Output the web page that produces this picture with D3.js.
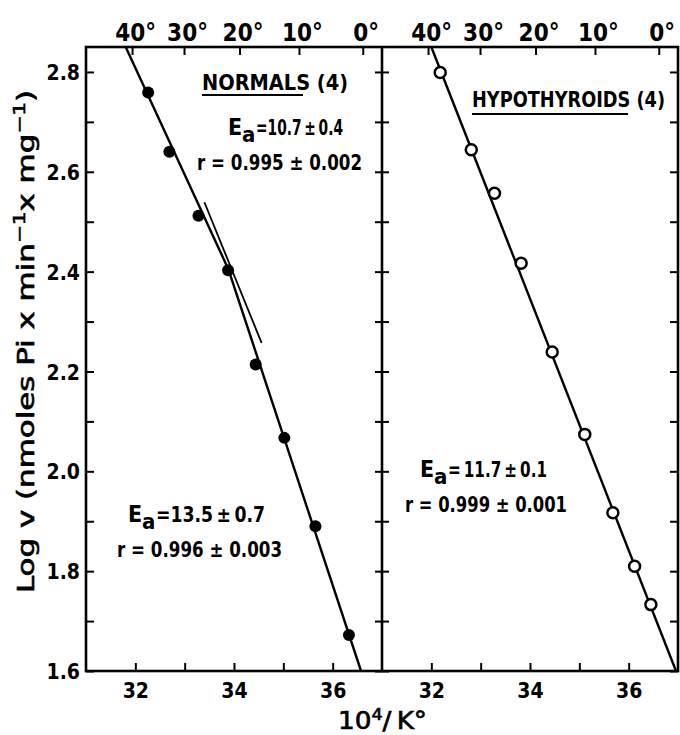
<!DOCTYPE html>
<html>
<head>
<meta charset="utf-8">
<script src="https://cdn.jsdelivr.net/npm/d3@7"></script>
<style>
  html, body { margin: 0; padding: 0; background: #fff; }
  svg { display: block; }
  text { font-family: "DejaVu Sans Condensed", "Liberation Sans", Arial, sans-serif; font-weight: bold; fill: #000; }
  text.medium { font-weight: normal; stroke: #000; stroke-width: 0.6px; }
</style>
</head>
<body>
<svg id="chart" width="680" height="735"></svg>
<script>
// ---------------- data ----------------
const normalsX = [32.26, 32.69, 33.28, 33.88, 34.44, 35.02, 35.65, 36.33];
const normalsY = [2.759, 2.640, 2.512, 2.403, 2.214, 2.067, 1.890, 1.672];
const hypoX = [32.18, 32.81, 33.28, 33.82, 34.45, 35.11, 35.68, 36.12, 36.45];
const hypoY = [2.799, 2.644, 2.557, 2.417, 2.239, 2.074, 1.917, 1.810, 1.733];
// broken regression line for normals (upper segment, break, lower segment)
const normalsFitX = [31.805, 33.885, 36.575];
const normalsFitY = [2.85, 2.405, 1.60];
const normalsTangentX = [33.40, 34.56];
const normalsTangentY = [2.539, 2.257];
const hypoFitX = [32.00, 36.96];
const hypoFitY = [2.85, 1.60];
const xTicks = [32, 33, 34, 35, 36];
const yTicks = [1.6, 1.7, 1.8, 1.9, 2.0, 2.1, 2.2, 2.3, 2.4, 2.5, 2.6, 2.7, 2.8];
const celsiusTicks = [40, 30, 20, 10, 0];

// ---------------- layout ----------------
const svg = d3.select("#chart");
const yTop = 47, yBot = 671;
const x0 = 86, xm = 382, x1 = 678;
const xL = d3.scaleLinear().domain([31, 37]).range([x0, xm]);
const xR = d3.scaleLinear().domain([31, 37]).range([xm, x1]);
const y = d3.scaleLinear().domain([1.6, 2.85]).range([yBot, yTop]);
const kelvinInv = c => 1e4 / (c + 273.15);

const tickFont = 21;

function styleAxis(g, sw) {
  g.select(".domain").remove();
  g.selectAll(".tick line").attr("stroke", "#000").attr("stroke-width", sw || 2);
  g.selectAll(".tick text").attr("font-size", tickFont).attr("fill", "#000");
}

// Left y axis with labels
svg.append("g").attr("transform", `translate(${x0},0)`)
  .call(d3.axisLeft(y).tickValues(yTicks).tickSizeInner(-8).tickSizeOuter(0).tickPadding(6)
    .tickFormat(d => (Math.round(d * 10) % 2 === 0) ? d3.format(".1f")(d) : ""))
  .call(g => styleAxis(g))
  .call(g => g.selectAll(".tick text").attr("dy", "0.36em"));

// Divider ticks (both sides)
svg.append("g").attr("transform", `translate(${xm},0)`)
  .call(d3.axisLeft(y).tickValues(yTicks).tickSizeInner(7).tickSizeOuter(0).tickFormat(""))
  .call(g => styleAxis(g));
svg.append("g").attr("transform", `translate(${xm},0)`)
  .call(d3.axisRight(y).tickValues(yTicks).tickSizeInner(7).tickSizeOuter(0).tickFormat(""))
  .call(g => styleAxis(g));
// Right edge ticks (inward)
svg.append("g").attr("transform", `translate(${x1},0)`)
  .call(d3.axisLeft(y).tickValues(yTicks).tickSizeInner(8).tickSizeOuter(0).tickFormat(""))
  .call(g => styleAxis(g));

// Bottom axes
[xL, xR].forEach(sc => {
  svg.append("g").attr("transform", `translate(0,${yBot})`)
    .call(d3.axisBottom(sc).tickValues(xTicks).tickSizeInner(-8).tickSizeOuter(0).tickPadding(12)
      .tickFormat(d => d % 2 === 0 ? d : ""))
    .call(g => styleAxis(g))
    .call(g => g.selectAll(".tick text").attr("dy", "0.71em"));
});

// Top axes (Celsius)
[xL, xR].forEach(sc => {
  svg.append("g").attr("transform", `translate(0,${yTop})`)
    .call(d3.axisTop(sc).tickValues(celsiusTicks.map(kelvinInv)).tickSizeInner(-8).tickSizeOuter(0).tickPadding(6)
      .tickFormat((d, i) => celsiusTicks[i] + "°"))
    .call(g => styleAxis(g))
    .call(g => g.selectAll(".tick text").attr("font-size", 24).attr("dx", 3));
});

// Frame
svg.append("rect").attr("x", x0).attr("y", yTop).attr("width", x1 - x0).attr("height", yBot - yTop)
  .attr("fill", "none").attr("stroke", "#000").attr("stroke-width", 2.6);
svg.append("line").attr("x1", xm).attr("x2", xm).attr("y1", yTop).attr("y2", yBot)
  .attr("stroke", "#000").attr("stroke-width", 2.6);

// Fit lines
const lineL = d3.line().x(d => xL(d[0])).y(d => y(d[1]));
const lineR = d3.line().x(d => xR(d[0])).y(d => y(d[1]));
svg.append("path").attr("d", lineL(d3.zip(normalsFitX, normalsFitY)))
  .attr("stroke", "#000").attr("stroke-width", 2.4).attr("fill", "none").attr("stroke-linejoin", "round");
svg.append("path").attr("d", lineL(d3.zip(normalsTangentX, normalsTangentY)))
  .attr("stroke", "#000").attr("stroke-width", 1.8).attr("fill", "none");
svg.append("path").attr("d", lineR(d3.zip(hypoFitX, hypoFitY)))
  .attr("stroke", "#000").attr("stroke-width", 2.4).attr("fill", "none");

// Points
svg.append("g").selectAll("circle").data(d3.zip(normalsX, normalsY)).join("circle")
  .attr("cx", d => xL(d[0])).attr("cy", d => y(d[1])).attr("r", 6).attr("fill", "#000");
svg.append("g").selectAll("circle").data(d3.zip(hypoX, hypoY)).join("circle")
  .attr("cx", d => xR(d[0])).attr("cy", d => y(d[1])).attr("r", 5.5)
  .attr("fill", "#fff").attr("stroke", "#000").attr("stroke-width", 2.5);

// ---------------- annotations ----------------
const thin = "\u2009";
function label(xp, yp, str, size, len) {
  const t = svg.append("text").attr("x", xp).attr("y", yp).attr("font-size", size).text(str);
  if (len) t.attr("textLength", len).attr("lengthAdjust", "spacingAndGlyphs");
  return t;
}
function ea(xp, yp, val, len) {
  svg.append("text").attr("x", xp).attr("y", yp).attr("font-size", 23).text("E");
  svg.append("text").attr("x", xp + 14).attr("y", yp + 7).attr("font-size", 22).text("a");
  svg.append("text").attr("x", xp + 28).attr("y", yp).attr("font-size", 22).text(val)
    .attr("textLength", len - 28).attr("lengthAdjust", "spacingAndGlyphs");
}

// NORMALS (4)
label(202, 90, "NORMALS (4)", 22, 146);
svg.append("line").attr("x1", 202).attr("x2", 303).attr("y1", 95).attr("y2", 95)
  .attr("stroke", "#000").attr("stroke-width", 1.8);
ea(228, 135, "=10.7" + thin + "±" + thin + "0.4", 115);
label(197, 170, "r = 0.995 ± 0.002", 22, 165);

ea(128, 522, "=13.5" + thin + "±" + thin + "0.7", 137);
label(117, 557, "r = 0.996 ± 0.003", 22, 165);

// HYPOTHYROIDS (4)
label(472, 107, "HYPOTHYROIDS (4)", 21, 193);
svg.append("line").attr("x1", 472).attr("x2", 628).attr("y1", 114).attr("y2", 114)
  .attr("stroke", "#000").attr("stroke-width", 1.8);
ea(420, 477, "=" + thin + "11.7" + thin + "±" + thin + "0.1", 127);
label(405, 512, "r = 0.999 ± 0.001", 22, 162);

// Axis titles
const xt = svg.append("text").attr("class", "medium").attr("x", 338).attr("y", 729).attr("font-size", 24)
  .attr("textLength", 89).attr("lengthAdjust", "spacingAndGlyphs");
xt.append("tspan").text("10");
xt.append("tspan").text("4").attr("dy", -9).attr("font-size", 16);
xt.append("tspan").text("/" + thin + "K°").attr("dy", 9);

const yt = svg.append("text").attr("class", "medium").attr("transform", "translate(34,593) rotate(-90)")
  .attr("x", 0).attr("y", 0).attr("font-size", 23)
  .attr("textLength", 503).attr("lengthAdjust", "spacingAndGlyphs");
yt.append("tspan").text("Log v (nmoles Pi x min");
yt.append("tspan").text("−1").attr("dy", -9).attr("font-size", 16);
yt.append("tspan").text("x mg").attr("dy", 9);
yt.append("tspan").text("−1").attr("dy", -9).attr("font-size", 16);
yt.append("tspan").text(")").attr("dy", 9);
</script>
</body>
</html>
